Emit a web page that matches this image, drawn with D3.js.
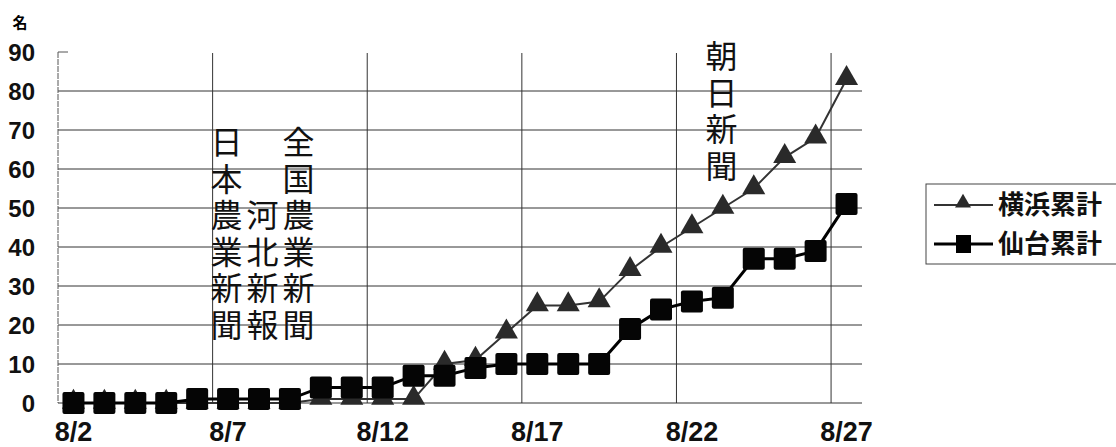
<!DOCTYPE html>
<html>
<head>
<meta charset="utf-8">
<script src="https://cdn.jsdelivr.net/npm/d3@7"></script>
<style>
  body { margin: 0; background: #fff; }
  svg { display: block; }
  .tick-y text, .tick-x text { font-family: "Liberation Sans", Arial, sans-serif; fill: #111; }
  .grid line { stroke: #333; stroke-width: 1; }
  .note { font-family: "Noto Sans CJK JP", sans-serif; font-size: 32px; fill: #111; }
  .legend text { font-family: "Noto Sans CJK JP", sans-serif; font-weight: bold; font-size: 26px; fill: #111; }
</style>
</head>
<body>
<div class="content"></div>
<script>
// categories (days)
var days = ["8/2","8/3","8/4","8/5","8/6","8/7","8/8","8/9","8/10","8/11","8/12","8/13","8/14",
            "8/15","8/16","8/17","8/18","8/19","8/20","8/21","8/22","8/23","8/24","8/25","8/26","8/27"];
// cumulative counts
var yokohama = [0,0,0,0,0,0,0,0,1,1,1,1,10,11,18,25,25,26,34,40,45,50,55,63,68,83];
var sendai   = [0,0,0,0,1,1,1,1,4,4,4,7,7,9,10,10,10,10,19,24,26,27,37,37,39,51];
var seriesNames = ["横浜累計", "仙台累計"];
var xTickLabels = ["8/2","8/7","8/12","8/17","8/22","8/27"];
var yTicks = [0,10,20,30,40,50,60,70,80,90];
// newspaper annotations (vertical text)
var notes = [
    {text: "日本農業新聞", day: "8/7", col: 0, row: 0},
    {text: "河北新報", day: "8/7", col: 1, row: 2},
    {text: "全国農業新聞", day: "8/7", col: 2, row: 0},
    {text: "朝日新聞", day: "8/23", col: 0, row: -2.35}
];

var fullWidth = 1116, fullHeight = 447;
var margin = {top: 52, left: 58};
var plotW = 804, plotH = 351;

var svg = d3.select("div.content").append("svg")
    .attr("width", fullWidth)
    .attr("height", fullHeight);

var x = d3.scaleBand().domain(days).range([margin.left, margin.left + plotW]);
var y = d3.scaleLinear().domain([0, 90]).range([margin.top + plotH, margin.top]);

// horizontal gridlines
svg.append("g").attr("class", "grid")
    .selectAll("line")
    .data(yTicks.filter(function(d){ return d > 0 && d < 90; }))
    .enter().append("line")
    .attr("x1", x.range()[0]).attr("x2", x.range()[1])
    .attr("y1", function(d){ return y(d); }).attr("y2", function(d){ return y(d); });

// vertical gridlines at category boundaries
svg.append("g").attr("class", "grid")
    .selectAll("line")
    .data(xTickLabels.slice(1))
    .enter().append("line")
    .attr("x1", function(d){ return x(d); }).attr("x2", function(d){ return x(d); })
    .attr("y1", y(90) + 1).attr("y2", y(0));

// axes lines
svg.append("line")
    .attr("x1", x.range()[0]).attr("x2", x.range()[0])
    .attr("y1", y(90)).attr("y2", y(0))
    .style("stroke", "#555").style("stroke-dasharray", "6,1");
svg.append("line")
    .attr("x1", x.range()[0]).attr("x2", x.range()[0] + 10)
    .attr("y1", y(90)).attr("y2", y(90))
    .style("stroke", "#555");
svg.append("line")
    .attr("x1", x.range()[0]).attr("x2", x.range()[1])
    .attr("y1", y(0)).attr("y2", y(0))
    .style("stroke", "#333");

// y axis labels
var yAxis = d3.axisLeft(y).tickValues(yTicks).tickSize(0).tickPadding(23);
var gy = svg.append("g").attr("class", "tick-y")
    .attr("transform", "translate(" + margin.left + ",0)")
    .call(yAxis);
gy.select(".domain").remove();
gy.attr("font-size", null).attr("font-family", null);
gy.selectAll("text")
    .style("font-size", "24px").style("font-weight", "bold")
    .attr("dy", "0.36em");

// unit label
svg.append("text")
    .attr("x", 20).attr("y", 28)
    .style("text-anchor", "middle")
    .style("font-family", "'Noto Sans CJK JP', sans-serif")
    .style("font-weight", "bold")
    .style("font-size", "15px")
    .text("名");

// x axis labels
var xAxis = d3.axisBottom(x).tickValues(xTickLabels).tickSize(0).tickPadding(0);
var gx = svg.append("g").attr("class", "tick-x")
    .attr("transform", "translate(0," + y(0) + ")")
    .call(xAxis);
gx.select(".domain").remove();
gx.attr("font-size", null).attr("font-family", null);
gx.selectAll("text")
    .style("font-size", "27px").style("font-weight", "bold")
    .attr("y", 38).attr("dy", null);

// annotations (vertical text)
notes.forEach(function(n){
    var cx = x(n.day) + 14 + n.col * 36;
    var top = 126 + n.row * 36.5;
    svg.append("text")
        .attr("class", "note")
        .attr("x", cx)
        .attr("y", top)
        .style("writing-mode", "vertical-rl")
        .style("text-orientation", "upright")
        .style("letter-spacing", "4.5px")
        .text(n.text);
});

var cxDay = function(d, i){ return x(days[i]) + x.bandwidth() / 2; };

// Yokohama line + triangles
var lineY = d3.line().x(cxDay).y(function(d){ return y(d); });
svg.append("path")
    .datum(yokohama)
    .attr("d", lineY)
    .style("fill", "none").style("stroke", "#333").style("stroke-width", 2);

var tri = d3.symbol().type(d3.symbolTriangle).size(230);
svg.selectAll(".tri")
    .data(yokohama)
    .enter().append("path")
    .attr("class", "tri")
    .attr("d", tri)
    .attr("transform", function(d, i){ return "translate(" + cxDay(d, i) + "," + (y(d) - 1) + ")"; })
    .style("fill", "#2a2a2a");

// Sendai line + squares
svg.append("path")
    .datum(sendai)
    .attr("d", lineY)
    .style("fill", "none").style("stroke", "#000").style("stroke-width", 3);

svg.selectAll(".sq")
    .data(sendai)
    .enter().append("rect")
    .attr("class", "sq")
    .attr("x", function(d, i){ return cxDay(d, i) - 11; })
    .attr("y", function(d){ return y(d) - 11; })
    .attr("width", 22).attr("height", 22)
    .attr("rx", 2)
    .style("fill", "#050505");

// legend
var legend = svg.append("g").attr("class", "legend");
legend.append("rect")
    .attr("x", 926).attr("y", 184).attr("width", 200).attr("height", 80)
    .style("fill", "none").style("stroke", "#444").style("stroke-width", 1);
var rows = [205, 244];
seriesNames.forEach(function(name, i){
    var ry = rows[i];
    legend.append("line")
        .attr("x1", 934).attr("x2", 993).attr("y1", ry).attr("y2", ry)
        .style("stroke", i === 0 ? "#333" : "#000")
        .style("stroke-width", i === 0 ? 2 : 3);
    if (i === 0) {
        legend.append("path")
            .attr("d", d3.symbol().type(d3.symbolTriangle).size(110))
            .attr("transform", "translate(963," + (ry - 2) + ")")
            .style("fill", "#2a2a2a");
    } else {
        legend.append("rect")
            .attr("x", 956).attr("y", ry - 9).attr("width", 15).attr("height", 18)
            .style("fill", "#000");
    }
    legend.append("text")
        .attr("x", 998).attr("y", ry).attr("dy", "0.36em")
        .text(name);
});
</script>
</body>
</html>
